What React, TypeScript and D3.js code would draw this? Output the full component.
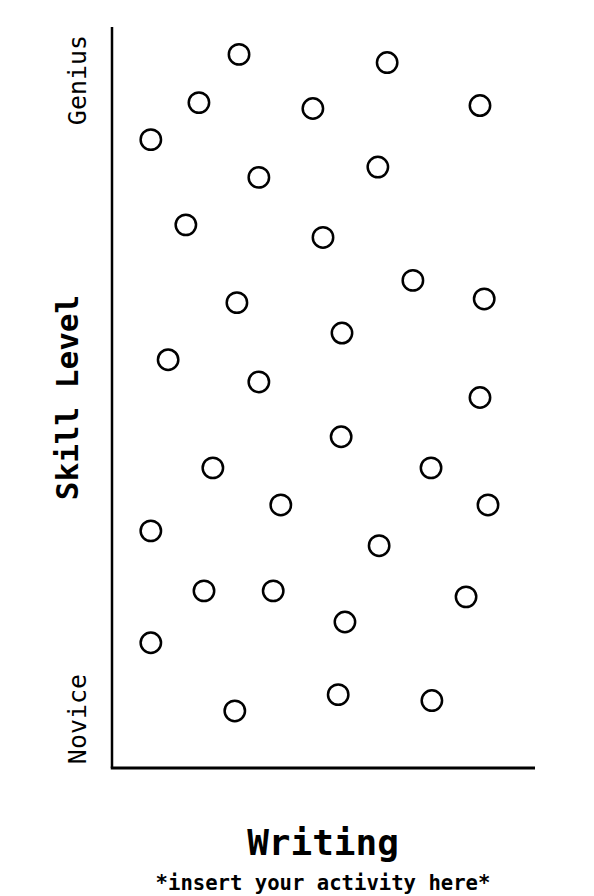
import { useEffect, useRef } from 'react';
import * as d3 from 'd3';

// skill chart points, x = position along activity axis, y = skill (0 novice .. 100 genius)
const pointX = [
  30.1, 65.2, 20.6, 47.6, 87.2, 9.2, 34.8, 63.0, 17.5, 50.0, 71.3, 88.2, 29.6, 54.5, 13.3, 34.8,
  87.2, 54.3, 23.9, 75.6, 40.0, 89.1, 9.2, 63.3, 21.8, 38.2, 83.9, 55.2, 9.2, 53.6, 29.1, 75.8,
];
const pointY = [
  96.3, 95.2, 89.8, 89.0, 89.4, 84.8, 79.7, 81.1, 73.3, 71.6, 65.8, 63.3, 62.8, 58.7, 55.1, 52.1,
  50.0, 44.7, 40.5, 40.5, 35.5, 35.5, 32.0, 30.0, 23.9, 23.9, 23.1, 19.7, 16.9, 9.9, 7.7, 9.1,
];
const levelLabels = ['Novice', 'Genius'];
const yTitle = 'Skill Level';
const xTitle = 'Writing';
const xSubtitle = '*insert your activity here*';

const MONO = '"DejaVu Sans Mono", "Liberation Mono", monospace';

export default function App() {
  const svgRef = useRef<SVGSVGElement>(null);

  useEffect(() => {
    if (!svgRef.current) return;
    const width = 594;
    const height = 896;
    const margin = { top: 27, right: 60, bottom: 128, left: 112 };

    const svg = d3.select(svgRef.current);
    svg.selectAll('*').remove();
    svg.attr('width', width).attr('height', height);

    const x = d3.scaleLinear().domain([0, 100]).range([margin.left, width - margin.right]);
    const y = d3.scaleLinear().domain([0, 100]).range([height - margin.bottom, margin.top]);

    // axes: plain L shape
    svg
      .append('line')
      .attr('x1', x(0))
      .attr('x2', x(0))
      .attr('y1', y(100))
      .attr('y2', y(0))
      .attr('stroke', '#000')
      .attr('stroke-width', 2.5);
    svg
      .append('line')
      .attr('x1', x(0) - 1.25)
      .attr('x2', x(100) + 1)
      .attr('y1', y(0))
      .attr('y2', y(0))
      .attr('stroke', '#000')
      .attr('stroke-width', 3);

    // points
    svg
      .append('g')
      .selectAll('circle')
      .data(d3.range(pointX.length))
      .join('circle')
      .attr('cx', (i) => x(pointX[i]))
      .attr('cy', (i) => y(pointY[i]))
      .attr('r', 10.2)
      .attr('fill', '#fff')
      .attr('stroke', '#000')
      .attr('stroke-width', 2.5);

    // level labels along y axis
    const levelPos = [y(0) - 49, y(100) + 53];
    levelLabels.forEach((label, i) => {
      svg
        .append('text')
        .attr('transform', `translate(86,${levelPos[i]}) rotate(-90)`)
        .attr('text-anchor', 'middle')
        .attr('font-family', MONO)
        .attr('font-size', 25)
        .attr('fill', '#000')
        .text(label);
    });

    svg
      .append('text')
      .attr('transform', `translate(78,${(y(0) + y(100)) / 2}) rotate(-90)`)
      .attr('text-anchor', 'middle')
      .attr('font-family', MONO)
      .attr('font-weight', 'bold')
      .attr('font-size', 31)
      .attr('fill', '#000')
      .text(yTitle);

    svg
      .append('text')
      .attr('x', (x(0) + x(100)) / 2)
      .attr('y', 855)
      .attr('text-anchor', 'middle')
      .attr('font-family', MONO)
      .attr('font-weight', 'bold')
      .attr('font-size', 36)
      .attr('fill', '#000')
      .text(xTitle);

    svg
      .append('text')
      .attr('x', (x(0) + x(100)) / 2)
      .attr('y', 890)
      .attr('text-anchor', 'middle')
      .attr('font-family', MONO)
      .attr('font-weight', 'bold')
      .attr('font-size', 20.6)
      .attr('fill', '#000')
      .text(xSubtitle);
  }, []);

  return (
    <div style={{ position: 'fixed', left: 0, top: 0, background: '#fff' }}>
      <svg ref={svgRef} style={{ display: 'block' }} />
    </div>
  );
}
